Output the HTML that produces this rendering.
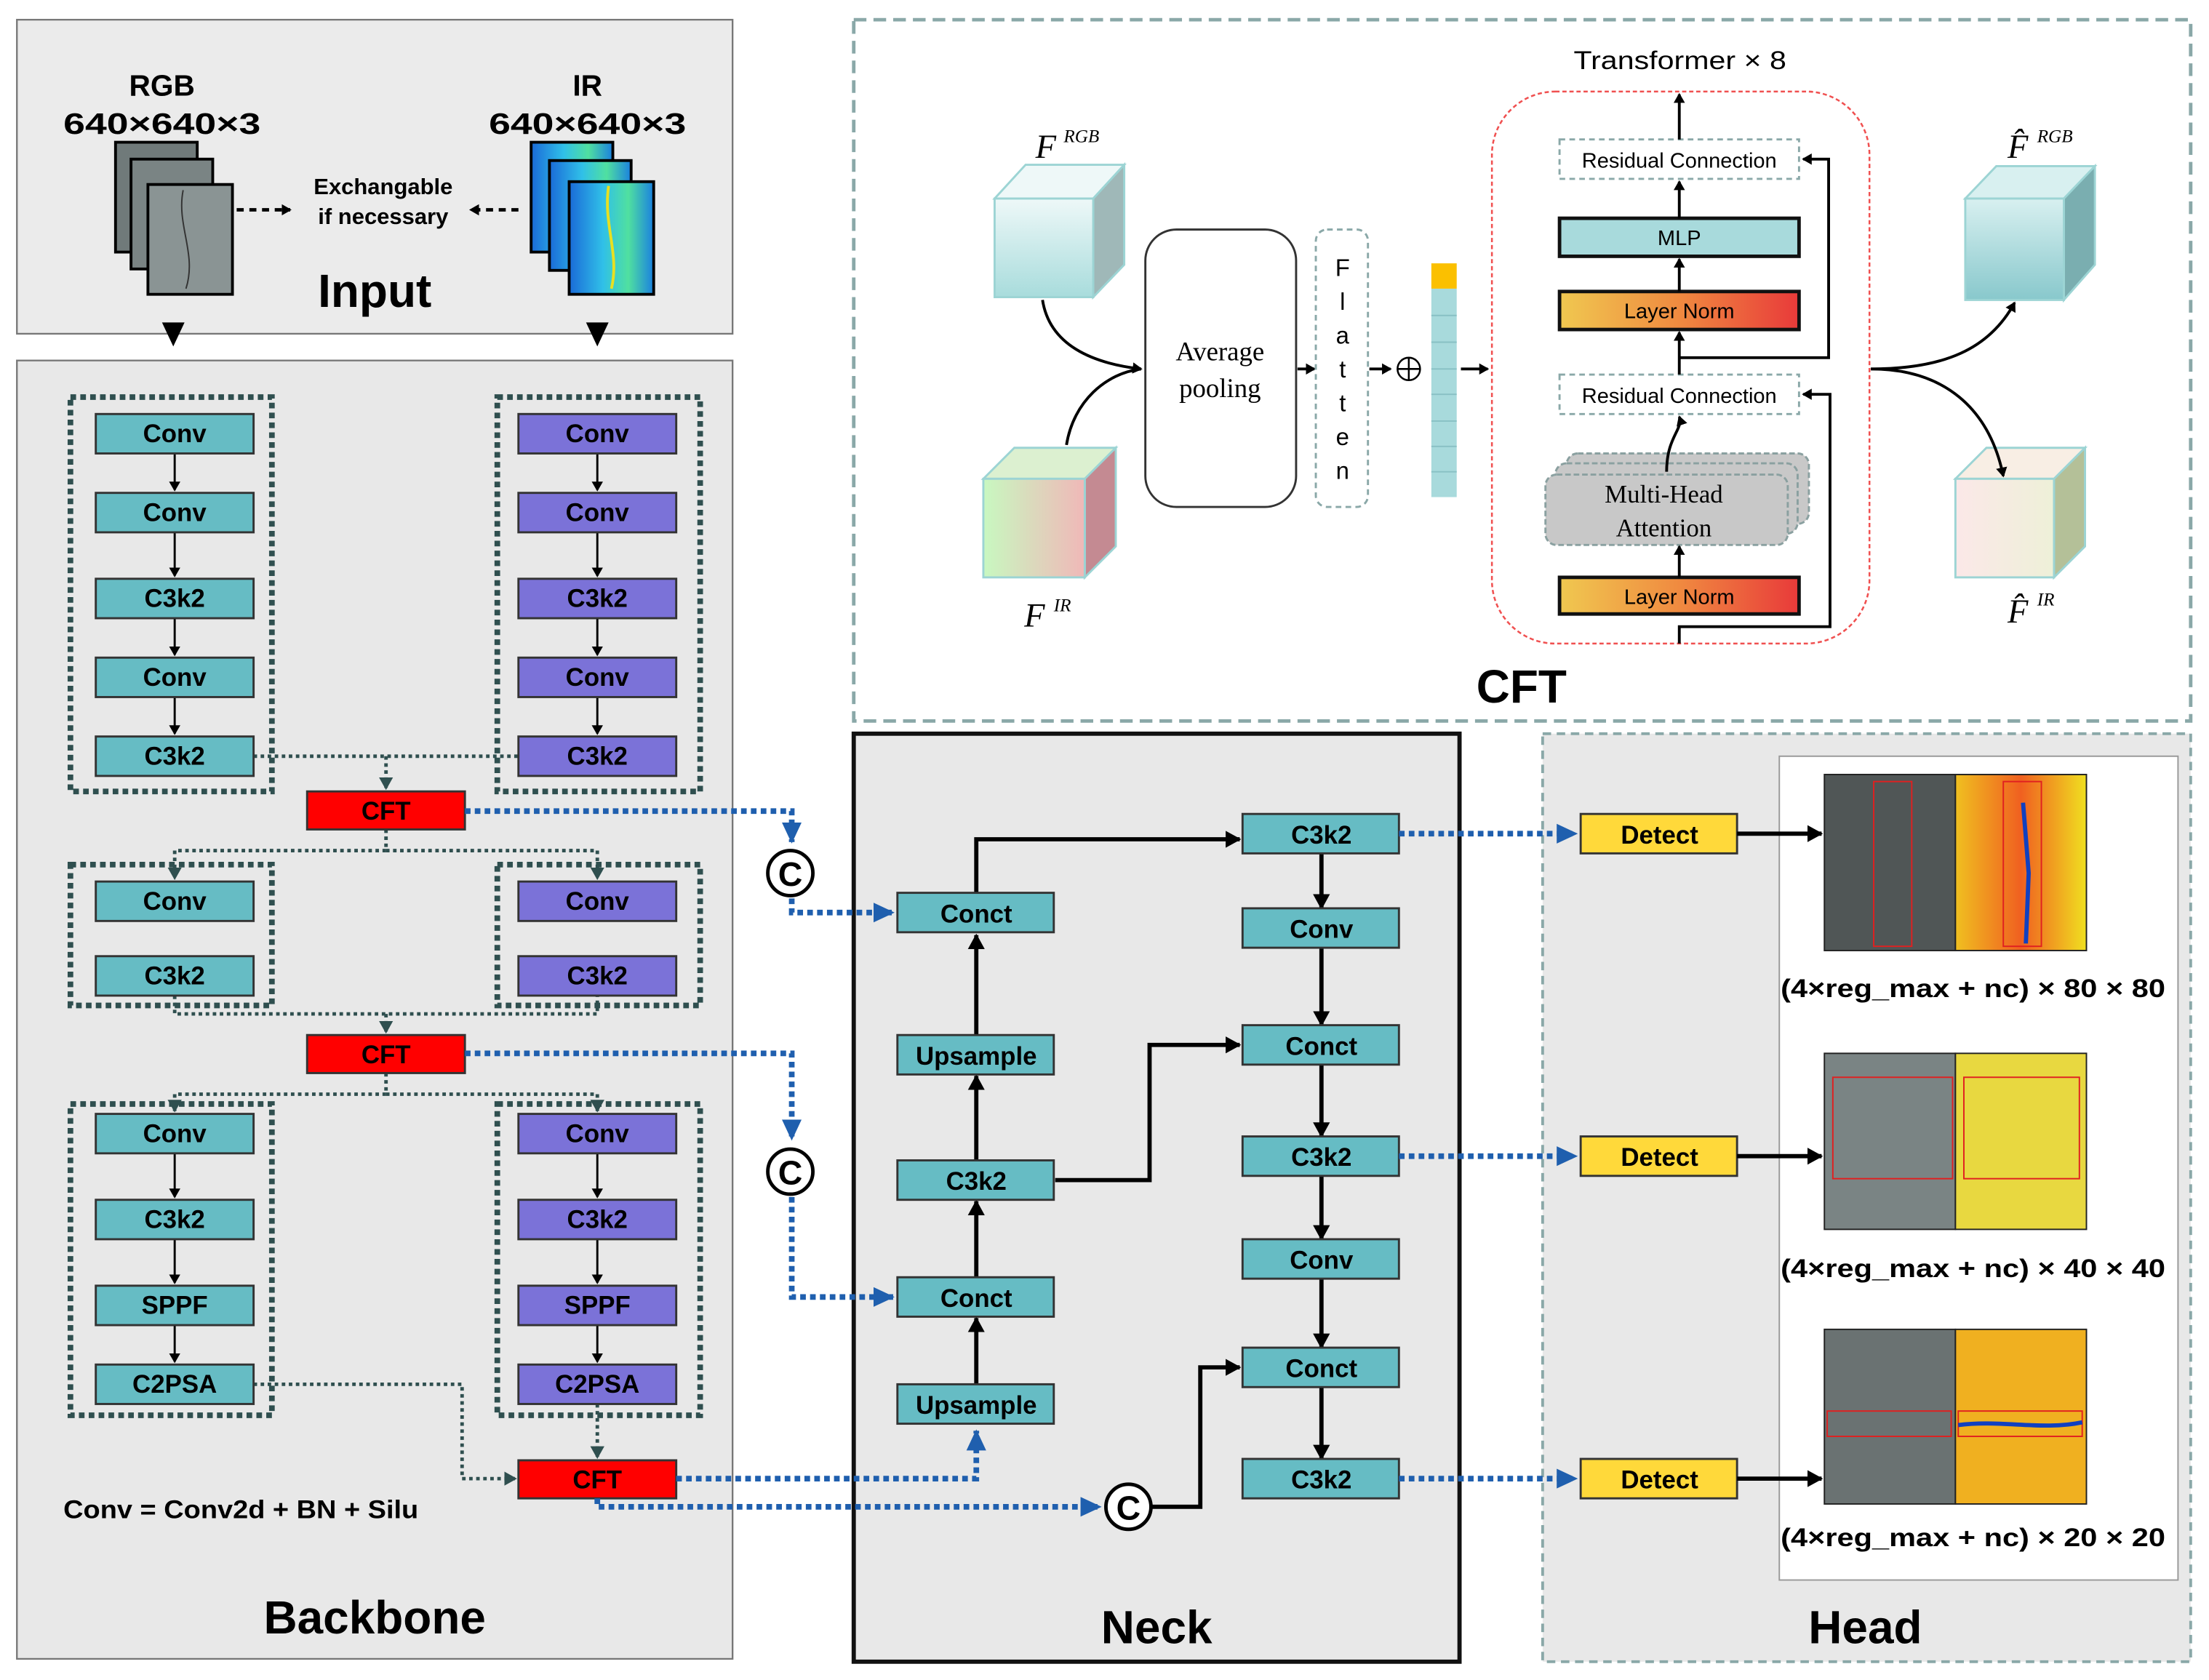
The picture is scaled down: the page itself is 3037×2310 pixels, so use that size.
<!DOCTYPE html>
<html><head><meta charset="utf-8"><style>
html,body{margin:0;padding:0;background:#fff}
svg{display:block}
text{font-family:"Liberation Sans",sans-serif}
.b{font-weight:bold}
.mono{font-family:"Liberation Serif",serif}
</style></head><body>
<svg width="3037" height="2310" viewBox="0 0 1568 1193" preserveAspectRatio="none" xmlns="http://www.w3.org/2000/svg">
<defs>
<marker id="ak" markerWidth="8" markerHeight="8" refX="6" refY="4" orient="auto" markerUnits="userSpaceOnUse"><path d="M0,0 L7,4 L0,8 z" fill="#000"/></marker>
<marker id="ab" markerWidth="16" markerHeight="14" refX="14" refY="7" orient="auto" markerUnits="userSpaceOnUse"><path d="M0,0 L15,7 L0,14 z" fill="#1f5fae"/></marker>
<marker id="ad" markerWidth="10" markerHeight="10" refX="8" refY="5" orient="auto" markerUnits="userSpaceOnUse"><path d="M0,0 L9,5 L0,10 z" fill="#2f4f4f"/></marker>
<marker id="ak2" markerWidth="12" markerHeight="12" refX="10" refY="6" orient="auto" markerUnits="userSpaceOnUse"><path d="M0,0 L11,6 L0,12 z" fill="#000"/></marker>
<linearGradient id="ln" x1="0" x2="1"><stop offset="0" stop-color="#f0c850"/><stop offset=".5" stop-color="#f08a40"/><stop offset="1" stop-color="#e83a3a"/></linearGradient>
<linearGradient id="cr" x1="0" y1="0" x2="0" y2="1"><stop offset="0" stop-color="#eef8f8"/><stop offset="1" stop-color="#a8dcdc"/></linearGradient>
<linearGradient id="ci" x1="0" x2="1"><stop offset="0" stop-color="#c8f8c0"/><stop offset="1" stop-color="#f0b8b8"/></linearGradient>
<linearGradient id="cr2" x1="0" y1="0" x2="0" y2="1"><stop offset="0" stop-color="#d8f0f0"/><stop offset="1" stop-color="#88c8cc"/></linearGradient>
<linearGradient id="ci2" x1="0" x2="1"><stop offset="0" stop-color="#fbe8e8"/><stop offset="1" stop-color="#eef0d8"/></linearGradient>
<linearGradient id="ir" x1="0" x2="1"><stop offset="0" stop-color="#1a6ad8"/><stop offset=".4" stop-color="#30c0e8"/><stop offset=".7" stop-color="#50e0a0"/><stop offset="1" stop-color="#1a80e0"/></linearGradient>
<linearGradient id="h1" x1="0" x2="1"><stop offset="0" stop-color="#f0c020"/><stop offset=".5" stop-color="#f06020"/><stop offset="1" stop-color="#f0e020"/></linearGradient>
</defs>

<!-- Input -->
<rect x="12" y="14" width="508" height="223" fill="#ebebeb" stroke="#777" stroke-width="1.2"/>
<text x="115" y="68" font-size="21" text-anchor="middle" class="b">RGB</text>
<text x="45" y="95" font-size="21" class="b" textLength="140" lengthAdjust="spacingAndGlyphs">640×640×3</text>
<text x="417" y="68" font-size="21" text-anchor="middle" class="b">IR</text>
<text x="347" y="95" font-size="21" class="b" textLength="140" lengthAdjust="spacingAndGlyphs">640×640×3</text>
<rect x="82" y="101" width="58" height="78" fill="#707a7a" stroke="#000" stroke-width="2"/>
<rect x="93" y="113" width="58" height="78" fill="#7a8484" stroke="#000" stroke-width="2"/>
<rect x="105" y="131" width="60" height="78" fill="#8a9494" stroke="#000" stroke-width="2"/>
<path d="M130,135 C125,160 140,180 132,205" stroke="#333" fill="none" stroke-width="1"/>
<rect x="377" y="101" width="58" height="78" fill="url(#ir)" stroke="#000" stroke-width="2"/>
<rect x="390" y="114" width="58" height="78" fill="url(#ir)" stroke="#000" stroke-width="2"/>
<rect x="404" y="129" width="60" height="80" fill="url(#ir)" stroke="#000" stroke-width="2"/>
<path d="M432,132 C428,160 440,180 434,205" stroke="#e8e020" fill="none" stroke-width="2"/>
<text x="272" y="138" font-size="16" text-anchor="middle" class="b">Exchangable</text>
<text x="272" y="159" font-size="16" text-anchor="middle" class="b">if necessary</text>
<line x1="168" y1="149" x2="206" y2="149" stroke="#000" stroke-width="2.5" stroke-dasharray="5 4" marker-end="url(#ak)"/>
<line x1="368" y1="149" x2="334" y2="149" stroke="#000" stroke-width="2.5" stroke-dasharray="5 4" marker-end="url(#ak)"/>
<text x="266" y="218" font-size="33" text-anchor="middle" class="b">Input</text>
<path d="M115,229 L131,229 L123,246 z" fill="#000"/>
<path d="M416,229 L432,229 L424,246 z" fill="#000"/>

<!-- Backbone -->
<rect x="12" y="256" width="508" height="922" fill="#e8e8e8" stroke="#777" stroke-width="1.2"/>
<g fill="none" stroke="#2f4f4f" stroke-width="4" stroke-dasharray="4 3">
<rect x="50" y="282" width="143" height="280"/>
<rect x="353" y="282" width="144" height="280"/>
<rect x="50" y="614" width="143" height="100"/>
<rect x="353" y="614" width="144" height="100"/>
<rect x="50" y="784" width="143" height="221"/>
<rect x="353" y="784" width="144" height="221"/>
</g>
<g stroke="#2f4f4f" stroke-width="2.5" stroke-dasharray="2.5 2.5" fill="none">
<path d="M180,537 L368,537" /><path d="M274,537 L274,560" marker-end="url(#ad)"/>
<path d="M274,589 L274,604 L124,604 L124,624" marker-end="url(#ad)"/><path d="M274,604 L424,604 L424,624" marker-end="url(#ad)"/>
<path d="M124,707 L124,720 L424,720 L424,707"/><path d="M274,720 L274,733" marker-end="url(#ad)"/>
<path d="M274,762 L274,777 L124,777 L124,789" marker-end="url(#ad)"/><path d="M274,777 L424,777 L424,789" marker-end="url(#ad)"/>
<path d="M180,983 L328,983 L328,1050 L366,1050" marker-end="url(#ad)"/>
<path d="M424,997 L424,1035" marker-end="url(#ad)"/>
</g>
<g stroke="#000" stroke-width="1.5" marker-end="url(#ak)">
<line x1="124" y1="322" x2="124" y2="348"/><line x1="124" y1="378" x2="124" y2="409"/><line x1="124" y1="439" x2="124" y2="465"/><line x1="124" y1="495" x2="124" y2="521"/>
<line x1="424" y1="322" x2="424" y2="348"/><line x1="424" y1="378" x2="424" y2="409"/><line x1="424" y1="439" x2="424" y2="465"/><line x1="424" y1="495" x2="424" y2="521"/>
<line x1="124" y1="819" x2="124" y2="850"/><line x1="124" y1="880" x2="124" y2="911"/><line x1="124" y1="941" x2="124" y2="967"/>
<line x1="424" y1="819" x2="424" y2="850"/><line x1="424" y1="880" x2="424" y2="911"/><line x1="424" y1="941" x2="424" y2="967"/>
</g>
<g font-size="18" class="b" text-anchor="middle" stroke-width="1.5">
<g stroke="#333"><rect x="68" y="294" width="112" height="28" fill="#66bcc4"/><rect x="68" y="350" width="112" height="28" fill="#66bcc4"/><rect x="68" y="411" width="112" height="28" fill="#66bcc4"/><rect x="68" y="467" width="112" height="28" fill="#66bcc4"/><rect x="68" y="523" width="112" height="28" fill="#66bcc4"/>
<rect x="368" y="294" width="112" height="28" fill="#7b72d8"/><rect x="368" y="350" width="112" height="28" fill="#7b72d8"/><rect x="368" y="411" width="112" height="28" fill="#7b72d8"/><rect x="368" y="467" width="112" height="28" fill="#7b72d8"/><rect x="368" y="523" width="112" height="28" fill="#7b72d8"/>
<rect x="68" y="626" width="112" height="28" fill="#66bcc4"/><rect x="68" y="679" width="112" height="28" fill="#66bcc4"/>
<rect x="368" y="626" width="112" height="28" fill="#7b72d8"/><rect x="368" y="679" width="112" height="28" fill="#7b72d8"/>
<rect x="68" y="791" width="112" height="28" fill="#66bcc4"/><rect x="68" y="852" width="112" height="28" fill="#66bcc4"/><rect x="68" y="913" width="112" height="28" fill="#66bcc4"/><rect x="68" y="969" width="112" height="28" fill="#66bcc4"/>
<rect x="368" y="791" width="112" height="28" fill="#7b72d8"/><rect x="368" y="852" width="112" height="28" fill="#7b72d8"/><rect x="368" y="913" width="112" height="28" fill="#7b72d8"/><rect x="368" y="969" width="112" height="28" fill="#7b72d8"/>
<rect x="218" y="562" width="112" height="27" fill="#f00"/><rect x="218" y="735" width="112" height="27" fill="#f00"/><rect x="368" y="1037" width="112" height="27" fill="#f00"/></g>
<text x="124" y="314">Conv</text><text x="124" y="370">Conv</text><text x="124" y="431">C3k2</text><text x="124" y="487">Conv</text><text x="124" y="543">C3k2</text>
<text x="424" y="314">Conv</text><text x="424" y="370">Conv</text><text x="424" y="431">C3k2</text><text x="424" y="487">Conv</text><text x="424" y="543">C3k2</text>
<text x="124" y="646">Conv</text><text x="124" y="699">C3k2</text><text x="424" y="646">Conv</text><text x="424" y="699">C3k2</text>
<text x="124" y="811">Conv</text><text x="124" y="872">C3k2</text><text x="124" y="933">SPPF</text><text x="124" y="989">C2PSA</text>
<text x="424" y="811">Conv</text><text x="424" y="872">C3k2</text><text x="424" y="933">SPPF</text><text x="424" y="989">C2PSA</text>
<text x="274" y="582">CFT</text><text x="274" y="755">CFT</text><text x="424" y="1057">CFT</text>
</g>
<text x="45" y="1078" font-size="18" class="b" textLength="252" lengthAdjust="spacingAndGlyphs">Conv = Conv2d + BN + Silu</text>
<text x="266" y="1160" font-size="33" text-anchor="middle" class="b">Backbone</text>

<!-- CFT panel -->
<rect x="606" y="14" width="949" height="498" fill="#fff" stroke="#8aa8a8" stroke-width="2.5" stroke-dasharray="9 5"/>
<text x="1117" y="49" font-size="18" textLength="151" lengthAdjust="spacingAndGlyphs">Transformer × 8</text>
<g stroke="#9cd4d4" stroke-width="1.5">
<polygon points="706,141 728,117 798,117 776,141" fill="#eef8f8"/><polygon points="776,141 798,117 798,188 776,211" fill="#9fb8b8"/><rect x="706" y="141" width="70" height="70" fill="url(#cr)"/>
<polygon points="698,340 720,318 792,318 770,340" fill="#dcf0d0"/><polygon points="770,340 792,318 792,388 770,410" fill="#c48a92"/><rect x="698" y="340" width="72" height="70" fill="url(#ci)"/>
<polygon points="1395,141 1417,118 1487,118 1465,141" fill="#d8f0f0"/><polygon points="1465,141 1487,118 1487,188 1465,213" fill="#7aaeb0"/><rect x="1395" y="141" width="70" height="72" fill="url(#cr2)"/>
<polygon points="1388,340 1410,318 1480,318 1458,340" fill="#f8eee4"/><polygon points="1458,340 1480,318 1480,388 1458,410" fill="#b4c098"/><rect x="1388" y="340" width="70" height="70" fill="url(#ci2)"/>
</g>
<text x="735" y="112" font-size="24" font-style="italic" class="mono">F</text><text x="755" y="101" font-size="13" font-style="italic" class="mono">RGB</text>
<text x="727" y="445" font-size="24" font-style="italic" class="mono">F</text><text x="748" y="434" font-size="13" font-style="italic" class="mono">IR</text>
<text x="1425" y="112" font-size="24" font-style="italic" class="mono">F̂</text><text x="1446" y="101" font-size="13" font-style="italic" class="mono">RGB</text>
<text x="1425" y="442" font-size="24" font-style="italic" class="mono">F̂</text><text x="1446" y="430" font-size="13" font-style="italic" class="mono">IR</text>
<g fill="none" stroke="#000" stroke-width="2">
<path d="M740,213 C745,245 775,258 810,262" marker-end="url(#ak)"/>
<path d="M757,316 C762,285 785,265 810,262"/>
<path d="M1328,262 C1380,262 1412,248 1430,215" marker-end="url(#ak)"/>
<path d="M1328,262 C1380,262 1412,290 1422,338" marker-end="url(#ak)"/>
<line x1="921" y1="262" x2="933" y2="262" marker-end="url(#ak)"/>
<line x1="972" y1="262" x2="987" y2="262" marker-end="url(#ak)"/>
<line x1="1037" y1="262" x2="1056" y2="262" marker-end="url(#ak)"/>
</g>
<rect x="813" y="163" width="107" height="197" rx="22" fill="#fff" stroke="#333" stroke-width="1.5"/>
<text x="866" y="256" font-size="19" text-anchor="middle" class="mono">Average</text>
<text x="866" y="282" font-size="19" text-anchor="middle" class="mono">pooling</text>
<rect x="934" y="163" width="37" height="197" rx="8" fill="#fff" stroke="#8aa8a8" stroke-width="1.5" stroke-dasharray="4 3"/>
<g font-size="17" text-anchor="middle" class="mono"><text x="953" y="196">F</text><text x="953" y="220">l</text><text x="953" y="244">a</text><text x="953" y="268">t</text><text x="953" y="292">t</text><text x="953" y="316">e</text><text x="953" y="340">n</text></g>
<circle cx="1000" cy="262" r="8" fill="none" stroke="#000" stroke-width="1.3"/><path d="M992,262 H1008 M1000,254 V270" stroke="#000" stroke-width="1.3"/>
<rect x="1016" y="187" width="18" height="18" fill="#fbc000"/>
<rect x="1016" y="205" width="18" height="148" fill="#a8dadc"/>
<path d="M1016,224 H1034 M1016,243 H1034 M1016,262 H1034 M1016,280 H1034 M1016,299 H1034 M1016,317 H1034 M1016,335 H1034" stroke="#88c0c4" stroke-width="1"/>
<rect x="1059" y="65" width="268" height="392" rx="45" fill="none" stroke="#f05050" stroke-width="1.3" stroke-dasharray="3 2"/>
<rect x="1107" y="99" width="170" height="28" fill="#fff" stroke="#8aa8a8" stroke-width="1.5" stroke-dasharray="4 3"/>
<text x="1192" y="119" font-size="15" text-anchor="middle">Residual Connection</text>
<rect x="1107" y="155" width="170" height="27" fill="#a8dadc" stroke="#111" stroke-width="2.5"/>
<text x="1192" y="174" font-size="15" text-anchor="middle">MLP</text>
<rect x="1107" y="207" width="170" height="27" fill="url(#ln)" stroke="#111" stroke-width="2.5"/>
<text x="1192" y="226" font-size="15" text-anchor="middle">Layer Norm</text>
<rect x="1107" y="266" width="170" height="28" fill="#fff" stroke="#8aa8a8" stroke-width="1.5" stroke-dasharray="4 3"/>
<text x="1192" y="286" font-size="15" text-anchor="middle">Residual Connection</text>
<g fill="#c8c8c8" stroke="#8aa0a0" stroke-width="1.5" stroke-dasharray="4 2">
<rect x="1112" y="322" width="172" height="50" rx="8"/><rect x="1104" y="329" width="172" height="50" rx="8"/><rect x="1097" y="337" width="172" height="50" rx="8"/>
</g>
<text x="1181" y="357" font-size="18" text-anchor="middle" class="mono">Multi-Head</text>
<text x="1181" y="381" font-size="18" text-anchor="middle" class="mono">Attention</text>
<rect x="1107" y="410" width="170" height="26" fill="url(#ln)" stroke="#111" stroke-width="2.5"/>
<text x="1192" y="429" font-size="15" text-anchor="middle">Layer Norm</text>
<g fill="none" stroke="#000" stroke-width="2">
<line x1="1192" y1="99" x2="1192" y2="67" marker-end="url(#ak)"/>
<line x1="1192" y1="155" x2="1192" y2="129" marker-end="url(#ak)"/>
<line x1="1192" y1="207" x2="1192" y2="184" marker-end="url(#ak)"/>
<line x1="1192" y1="266" x2="1192" y2="236" marker-end="url(#ak)"/>
<path d="M1192,254 H1298 V113 H1280" marker-end="url(#ak)"/>
<path d="M1183,335 C1183,310 1195,305 1192,296" marker-end="url(#ak)"/>
<line x1="1192" y1="410" x2="1192" y2="388" marker-end="url(#ak)"/>
<path d="M1192,457 V445 H1299 V280 H1280" marker-end="url(#ak)"/>
</g>
<text x="1080" y="499" font-size="33" text-anchor="middle" class="b">CFT</text>

<!-- Neck -->
<rect x="606" y="521" width="430" height="659" fill="#e8e8e8" stroke="#111" stroke-width="3"/>
<g fill="none" stroke="#000" stroke-width="3">
<path d="M693,634 V596 H880" marker-end="url(#ak2)"/>
<line x1="693" y1="735" x2="693" y2="664" marker-end="url(#ak2)"/>
<line x1="693" y1="824" x2="693" y2="764" marker-end="url(#ak2)"/>
<line x1="693" y1="907" x2="693" y2="853" marker-end="url(#ak2)"/>
<line x1="693" y1="983" x2="693" y2="936" marker-end="url(#ak2)"/>
<path d="M749,838 H816 V742 H880" marker-end="url(#ak2)"/>
<line x1="938" y1="606" x2="938" y2="645" marker-end="url(#ak2)"/>
<line x1="938" y1="673" x2="938" y2="728" marker-end="url(#ak2)"/>
<line x1="938" y1="756" x2="938" y2="807" marker-end="url(#ak2)"/>
<line x1="938" y1="835" x2="938" y2="880" marker-end="url(#ak2)"/>
<line x1="938" y1="908" x2="938" y2="957" marker-end="url(#ak2)"/>
<line x1="938" y1="985" x2="938" y2="1036" marker-end="url(#ak2)"/>
<path d="M818,1070 H852 V971 H880" marker-end="url(#ak2)"/>
</g>
<g font-size="18" class="b" text-anchor="middle">
<g fill="#66bcc4" stroke="#333" stroke-width="1.5">
<rect x="637" y="634" width="111" height="28"/><rect x="637" y="735" width="111" height="28"/><rect x="637" y="824" width="111" height="28"/><rect x="637" y="907" width="111" height="28"/><rect x="637" y="983" width="111" height="28"/>
<rect x="882" y="578" width="111" height="28"/><rect x="882" y="645" width="111" height="28"/><rect x="882" y="728" width="111" height="28"/><rect x="882" y="807" width="111" height="28"/><rect x="882" y="880" width="111" height="28"/><rect x="882" y="957" width="111" height="28"/><rect x="882" y="1036" width="111" height="28"/>
</g>
<text x="693" y="655">Conct</text><text x="693" y="756">Upsample</text><text x="693" y="845">C3k2</text><text x="693" y="928">Conct</text><text x="693" y="1004">Upsample</text>
<text x="938" y="599">C3k2</text><text x="938" y="666">Conv</text><text x="938" y="749">Conct</text><text x="938" y="828">C3k2</text><text x="938" y="901">Conv</text><text x="938" y="978">Conct</text><text x="938" y="1057">C3k2</text>
</g>
<text x="821" y="1167" font-size="33" text-anchor="middle" class="b">Neck</text>

<!-- Head -->
<rect x="1095" y="521" width="460" height="659" fill="#e8e8e8" stroke="#8aa8a8" stroke-width="2" stroke-dasharray="6 4"/>
<rect x="1263" y="537" width="283" height="585" fill="#fff" stroke="#999" stroke-width="1"/>
<g stroke="#333" stroke-width="1.5" fill="#ffd93a">
<rect x="1122" y="578" width="111" height="28"/><rect x="1122" y="807" width="111" height="28"/><rect x="1122" y="1036" width="111" height="28"/>
</g>
<g font-size="18" class="b" text-anchor="middle"><text x="1178" y="599">Detect</text><text x="1178" y="828">Detect</text><text x="1178" y="1057">Detect</text></g>
<g stroke="#000" stroke-width="3" marker-end="url(#ak2)">
<line x1="1233" y1="592" x2="1293" y2="592"/><line x1="1233" y1="821" x2="1293" y2="821"/><line x1="1233" y1="1050" x2="1293" y2="1050"/>
</g>
<g stroke="#222" stroke-width="1">
<rect x="1295" y="550" width="93" height="125" fill="#505656"/><rect x="1388" y="550" width="93" height="125" fill="url(#h1)"/>
<rect x="1295" y="748" width="93" height="125" fill="#7a8484"/><rect x="1388" y="748" width="93" height="125" fill="#e8d840"/>
<rect x="1295" y="944" width="93" height="124" fill="#6a7272"/><rect x="1388" y="944" width="93" height="124" fill="#f0b020"/>
</g>
<g fill="none" stroke="#e02020" stroke-width="1">
<rect x="1330" y="555" width="27" height="117"/><rect x="1422" y="555" width="27" height="117"/>
<rect x="1301" y="765" width="85" height="72"/><rect x="1394" y="765" width="82" height="72"/>
<rect x="1297" y="1002" width="88" height="18"/><rect x="1390" y="1002" width="88" height="18"/>
</g>
<path d="M1436,570 L1440,620 L1438,670" stroke="#1040c0" stroke-width="3" fill="none"/>
<path d="M1390,1012 C1420,1008 1450,1016 1478,1010" stroke="#1040c0" stroke-width="3" fill="none"/>
<g font-size="18" class="b">
<text x="1264" y="708" textLength="273" lengthAdjust="spacingAndGlyphs">(4×reg_max + nc) × 80 × 80</text>
<text x="1264" y="907" textLength="273" lengthAdjust="spacingAndGlyphs">(4×reg_max + nc) × 40 × 40</text>
<text x="1264" y="1098" textLength="273" lengthAdjust="spacingAndGlyphs">(4×reg_max + nc) × 20 × 20</text>
</g>
<text x="1324" y="1167" font-size="33" text-anchor="middle" class="b">Head</text>

<!-- blue dotted connectors (drawn on top) -->
<g fill="none" stroke="#1f5fae" stroke-width="4" stroke-dasharray="4 3">
<path d="M330,576 H562 V598" marker-end="url(#ab)"/>
<path d="M562,638 V648 H634" marker-end="url(#ab)"/>
<path d="M330,748 H562 V809" marker-end="url(#ab)"/>
<path d="M562,850 V921 H634" marker-end="url(#ab)"/>
<path d="M480,1050 H693 V1016" marker-end="url(#ab)"/>
<path d="M424,1064 V1070 H781" marker-end="url(#ab)"/>
<path d="M993,592 H1119" marker-end="url(#ab)"/>
<path d="M993,821 H1119" marker-end="url(#ab)"/>
<path d="M993,1050 H1119" marker-end="url(#ab)"/>
</g>
<g fill="#fff" stroke="#000" stroke-width="2.5">
<circle cx="561" cy="620" r="16"/><circle cx="561" cy="832" r="16"/><circle cx="801" cy="1070" r="16"/>
</g>
<g font-size="24" text-anchor="middle" class="b"><text x="561" y="629">C</text><text x="561" y="841">C</text><text x="801" y="1079">C</text></g>
</svg>
</body></html>
